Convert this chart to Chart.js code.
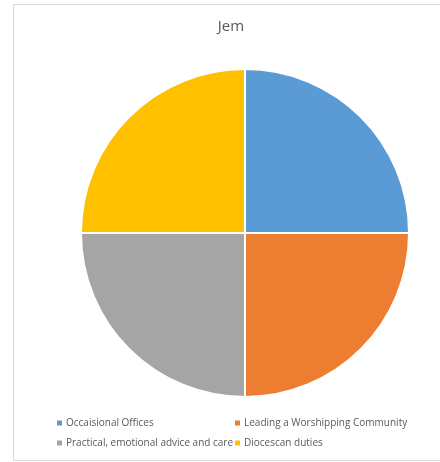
<!DOCTYPE html>
<html>
<head>
<meta charset="utf-8">
<script src="https://cdn.jsdelivr.net/npm/chart.js@4/dist/chart.umd.min.js"></script>
<style>
  html, body { margin: 0; padding: 0; background: #fff; overflow: hidden; }
  #wrap { position: relative; width: 440px; height: 462px; }
</style>
</head>
<body>
<div id="wrap"><canvas id="pieChart"></canvas></div>
<script>
const chartTitle = 'Jem';
const categories = ['Occaisional Offices', 'Leading a Worshipping Community', 'Practical, emotional advice and care', 'Diocescan duties'];
const values = [25, 25, 25, 25];
const colors = ['#5B9BD5', '#ED7D31', '#A5A5A5', '#FFC000'];

// frame, title and two-column legend drawn the way the original lays them out
const framePlugin = {
  id: 'frame',
  beforeDraw(chart) {
    const c = chart.ctx;
    c.save();
    c.strokeStyle = '#d9d9d9';
    c.lineWidth = 1;
    c.beginPath();
    c.moveTo(445, 4.5);
    c.lineTo(13.5, 4.5);
    c.lineTo(13.5, 460.5);
    c.lineTo(445, 460.5);
    c.stroke();
    c.restore();
  },
  afterDraw(chart) {
    const c = chart.ctx;
    c.save();
    c.fillStyle = '#595959';
    c.font = '15px "Open Sans", sans-serif';
    c.textAlign = 'center';
    c.textBaseline = 'middle';
    c.fillText(chartTitle, 231, 27);

    const items = chart.options.plugins.legend.labels.generateLabels(chart);
    const cols = [57, 235];
    const rows = [423, 443];
    c.font = '10px "Open Sans", sans-serif';
    c.textAlign = 'left';
    items.forEach((item, i) => {
      const x = cols[i % 2];
      const y = rows[Math.floor(i / 2)];
      c.fillStyle = item.fillStyle;
      c.fillRect(x, y - 2.5, 5, 5);
      c.fillStyle = '#595959';
      c.fillText(item.text, x + 9, y);
    });
    c.restore();
  }
};

new Chart(document.getElementById('pieChart').getContext('2d'), {
  type: 'pie',
  data: {
    labels: categories,
    datasets: [{
      data: values,
      backgroundColor: colors,
      borderColor: '#ffffff',
      borderWidth: 2
    }]
  },
  options: {
    responsive: true,
    maintainAspectRatio: false,
    animation: false,
    layout: { padding: { top: 68, left: 80, right: 30, bottom: 64 } },
    plugins: {
      legend: { display: false },
      tooltip: { enabled: false },
      title: { display: false }
    }
  },
  plugins: [framePlugin]
});
</script>
</body>
</html>
